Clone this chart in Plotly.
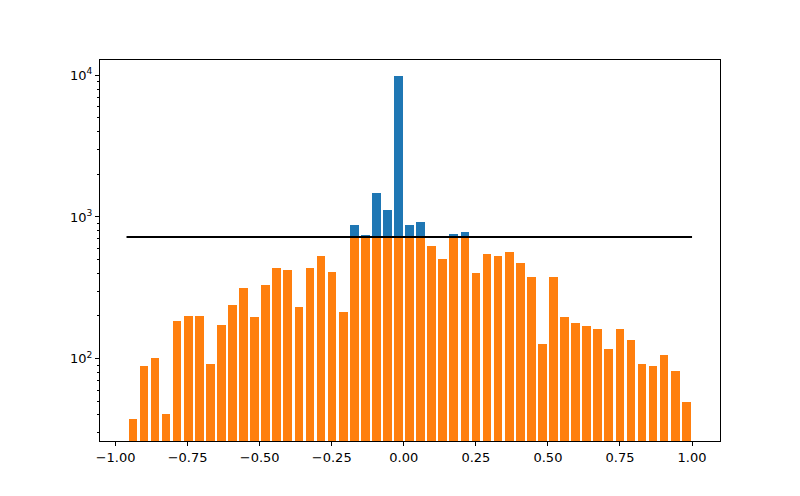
import numpy as np
import plotly.graph_objects as go

# bin centres (51 bins)
bin_centers = list(np.round(np.linspace(-0.94, 0.98, 51), 4))
counts = [37.5, 89, 101.6, 40.7, 183, 198.6, 198.6, 92, 171.5, 237.6,
          313.6, 195.5, 329.4, 434.8, 421, 230, 434.8, 528, 407.6, 212,
          877, 745, 1479, 1122, 9840, 877, 923, 622, 504, 757,
          783, 401, 547, 528, 565, 472, 375, 127.8, 375, 195.5,
          177, 168.6, 160.6, 117.7, 160.6, 134.2, 92, 89, 106.7, 82.2,
          49.5]
cap = 721
line_x = [-0.962, 1.0]
clipped = [min(c, cap) for c in counts]

xtick_vals = [-1.0, -0.75, -0.5, -0.25, 0.0, 0.25, 0.5, 0.75, 1.0]
xtick_text = ["\u22121.00", "\u22120.75", "\u22120.50", "\u22120.25", "0.00", "0.25", "0.50", "0.75", "1.00"]
ytick_vals = [100, 1000, 10000]
ytick_text = ["10<sup>2</sup>", "10<sup>3</sup>", "10<sup>4</sup>"]
minor_vals = [m * 10 ** k for k in (1, 2, 3) for m in range(2, 10)]

fig = go.Figure()
fig.add_trace(go.Bar(x=bin_centers, y=counts, width=0.0302,
                     marker=dict(color="#1f77b4", line=dict(width=0)), showlegend=False))
fig.add_trace(go.Bar(x=bin_centers, y=clipped, width=0.0302,
                     marker=dict(color="#ff7f0e", line=dict(width=0)), showlegend=False))
fig.add_trace(go.Scatter(x=line_x, y=[cap, cap], mode="lines",
                         line=dict(color="black", width=2), showlegend=False))

fig.update_layout(
    width=792, height=488,
    margin=dict(l=92, r=80, t=52, b=55),
    paper_bgcolor="white", plot_bgcolor="white",
    barmode="overlay", bargap=0,
    font=dict(family="DejaVu Sans", size=13, color="black"),
)
fig.update_xaxes(range=[-1.054, 1.097], tickvals=xtick_vals, ticktext=xtick_text,
                 ticks="outside", ticklen=4, tickwidth=1, tickcolor="black",
                 showline=True, mirror=True, linecolor="black", linewidth=1,
                 showgrid=False, zeroline=False)
fig.update_yaxes(type="log", range=[1.418, 4.1085], tickvals=ytick_vals, ticktext=ytick_text,
                 ticks="outside", ticklen=4, tickwidth=1, tickcolor="black",
                 minor=dict(tickvals=minor_vals, ticks="outside", ticklen=2, tickwidth=0.8,
                            tickcolor="black", showgrid=False),
                 showline=True, mirror=True, linecolor="black", linewidth=1,
                 showgrid=False, zeroline=False)

fig.write_html("out.html")
